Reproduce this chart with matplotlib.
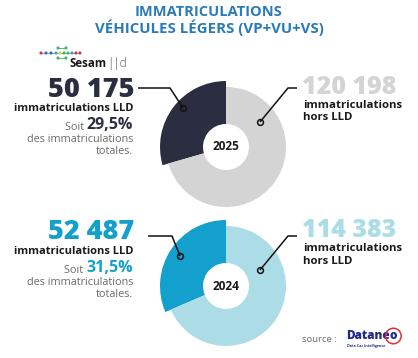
import matplotlib
matplotlib.use("Agg")
import matplotlib.pyplot as plt

# ---- data ----
years = ["2025", "2024"]
lld_counts = [50175, 52487]
other_counts = [120198, 114383]
lld_labels = ["50 175", "52 487"]
other_labels = ["120 198", "114 383"]
lld_pct_labels = ["29,5%", "31,5%"]

title_lines = ["IMMATRICULATIONS", "VÉHICULES LÉGERS (VP+VU+VS)"]

# ---- style ----
W, H = 418, 358
TITLE_C = "#2b7bb7"
TEXT = "#1a1a1a"
GRAY_T = "#6b6b6b"
lld_colors = ["#2a2e40", "#13a0cc"]
other_colors = ["#d4d4d4", "#acdde6"]
num_colors = ["#2a2e40", "#13a0cc"]
big_other_colors = ["#d4d4d4", "#acdde6"]
pct_colors = ["#2a2e40", "#13a0cc"]
FONT = ["Open Sans", "DejaVu Sans"]

fig = plt.figure(figsize=(W / 100, H / 100), dpi=100)
ax = fig.add_axes([0, 0, 1, 1])

def Y(y):
    return H - y

# donut geometry (pixel coords, image y downward)
centers = [(226, 147), (226, 286)]
r_out, r_lld, r_in = 60, 66, 23

for i in range(2):
    cx, cy = centers[i]
    wedges, _ = ax.pie([lld_counts[i], other_counts[i]],
                       colors=[lld_colors[i], other_colors[i]],
                       startangle=90, counterclock=True,
                       center=(cx, Y(cy)), radius=r_out,
                       wedgeprops=dict(width=r_out - r_in, linewidth=0))
    wedges[0].set_radius(r_lld)
    wedges[0].set_width(r_lld - r_in)
    ax.text(cx, Y(cy), years[i], ha="center", va="center", fontsize=8.5,
            fontweight="bold", color=TEXT, family=FONT)

# leader lines
leaders_left = [((138, 88), (170, 88), (183, 108)), ((148, 236), (172, 236), (180, 256))]
leaders_right = [((297, 88), (288, 88), (260, 122)), ((297, 236), (288, 236), (260, 270))]
for pts in leaders_left + leaders_right:
    xs = [p[0] for p in pts]
    ys = [Y(p[1]) for p in pts]
    ax.plot(xs, ys, color="#111111", lw=1.1, solid_capstyle="butt", zorder=5)
    ax.plot(xs[-1], ys[-1], "o", ms=4.2, mfc="none", mec="#111111", mew=1.1, zorder=6)

# titles
ax.text(W / 2, Y(12), title_lines[0], ha="center", va="center", fontsize=10.5,
        fontweight="bold", color=TITLE_C, family=FONT)
ax.text(W / 2, Y(28), title_lines[1], ha="center", va="center", fontsize=10.8,
        fontweight="bold", color=TITLE_C, family=FONT)

# Sesam lld logo
logo_pts = [(41, 53, "#d23a3a"), (46, 53, "#3b62c0"), (51, 53, "#3b62c0"), (56, 53, "#3b9be0"),
            (60, 53, "#e8d02a"), (64, 53, "#3fb56a"), (68, 53, "#3fb56a"), (72, 53, "#3b9be0"),
            (76, 53, "#d23a3a"), (80, 53, "#d23a3a"),
            (58, 48, "#3fb56a"), (66, 48, "#3fb56a"), (58, 58, "#3fb56a"), (66, 58, "#3fb56a")]
ax.plot([41, 80], [Y(53), Y(53)], color="#8aa0c8", lw=0.6, zorder=3)
ax.plot([58, 66], [Y(48), Y(48)], color="#3fb56a", lw=0.6, zorder=3)
ax.plot([58, 66], [Y(58), Y(58)], color="#3fb56a", lw=0.6, zorder=3)
ax.scatter([p[0] for p in logo_pts], [Y(p[1]) for p in logo_pts],
           c=[p[2] for p in logo_pts], s=5, zorder=4, linewidths=0)
ts = ax.text(69, Y(67), "Sesam", ha="left", va="baseline", fontsize=8.3, fontweight="bold",
             color=TEXT, family=FONT)
ax.annotate("||d", xy=(1, 0), xycoords=ts, xytext=(1, 0), textcoords="offset points",
            ha="left", va="bottom", fontsize=8.5, fontweight="light",
            color="#555555", family=FONT)

# left text blocks (baselines, image y)
left_y = [(97, 111, 129, 142, 154), (239, 254, 272, 285, 297)]
for i in range(2):
    yb, yl, ys, yd, yt = left_y[i]
    ax.text(134, Y(yb), lld_labels[i], ha="right", va="baseline", fontsize=19.5,
            fontweight="heavy", color=num_colors[i], family=FONT)
    ax.text(133, Y(yl), "immatriculations LLD", ha="right", va="baseline", fontsize=8,
            fontweight="bold", color=TEXT, family=FONT)
    t = ax.text(133, Y(ys), lld_pct_labels[i], ha="right", va="baseline", fontsize=11.5,
                fontweight="bold", color=pct_colors[i], family=FONT)
    ax.annotate("Soit ", xy=(0, 0), xycoords=t, ha="right", va="bottom",
                fontsize=7.8, color=GRAY_T, family=FONT)
    ax.text(133, Y(yd), "des immatriculations", ha="right", va="baseline", fontsize=7.8,
            color=GRAY_T, family=FONT)
    ax.text(133, Y(yt), "totales.", ha="right", va="baseline", fontsize=7.8,
            color=GRAY_T, family=FONT)

# right text blocks (baselines)
right_y = [(94, 108, 120), (237, 251, 264)]
for i in range(2):
    yb, y1, y2 = right_y[i]
    ax.text(302, Y(yb), other_labels[i], ha="left", va="baseline", fontsize=18,
            fontweight="heavy", color=big_other_colors[i], family=FONT)
    ax.text(303, Y(y1), "immatriculations", ha="left", va="baseline", fontsize=8.2,
            fontweight="bold", color=TEXT, family=FONT)
    ax.text(303, Y(y2), "hors LLD", ha="left", va="baseline", fontsize=8.2,
            fontweight="bold", color=TEXT, family=FONT)

# source
ax.text(337, Y(340), "source :", ha="right", va="center", fontsize=6.8,
        color=GRAY_T, family=FONT)
td = ax.text(346, Y(336), "Datane", ha="left", va="center", fontsize=8.5,
             fontweight="heavy", color="#1f2a8a", family=FONT)
ax.annotate("o", xy=(1, 0.5), xycoords=td, ha="left", va="center", fontsize=8.5,
            fontweight="heavy", color="#1f2a8a", family=FONT,
            bbox=dict(boxstyle="circle,pad=0.15", fc="none", ec="#e0303a", lw=1.1))
ax.text(347, Y(345.5), "Data Car Intelligence", ha="left", va="center", fontsize=2.6,
        fontweight="bold", color="#1f2a8a", family=FONT)

ax.set_xlim(0, W)
ax.set_ylim(0, H)
ax.set_aspect("auto")
ax.axis("off")
fig.savefig("out.png", dpi=100, facecolor="white")
